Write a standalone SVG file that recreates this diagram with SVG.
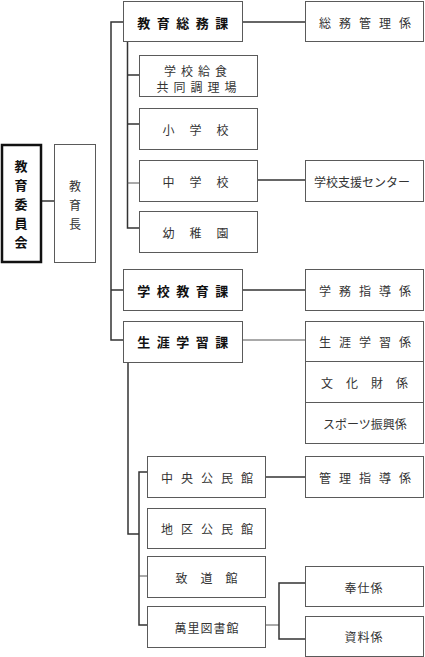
<svg xmlns="http://www.w3.org/2000/svg" width="425" height="657" viewBox="0 0 425 657">
<style>
.box{fill:#fff;stroke:#5a5a5a;stroke-width:1}
.thick{fill:#fff;stroke:#111;stroke-width:2.5}
.t{font-family:"Noto Sans CJK JP","Noto Sans",sans-serif;font-size:12px;fill:#333;text-anchor:middle;dominant-baseline:central}
.b{font-weight:bold;font-size:13px;fill:#111}
.ln{fill:none;stroke:#333;stroke-width:1.5}
.lt{fill:none;stroke:#555;stroke-width:1}
</style>
<rect width="425" height="657" fill="#fff"/>
<g id="connectors">
<path class="ln" d="M41 201H54"/>
<path class="ln" d="M123 22H111V340H123M111 290H123"/>
<path class="ln" d="M242 22H306"/>
<path class="ln" d="M127.5 41V228H139M127.5 75H139M127.5 124H139"/>
<path class="lt" d="M127.5 183H139"/>
<path class="ln" d="M257 180H306"/>
<path class="ln" d="M242 290H306"/>
<path class="lt" d="M242 340H306"/>
<path class="ln" d="M128 362V534H139"/>
<path class="ln" d="M147 472H139V625H147"/>
<path class="lt" d="M139 576H147"/>
<path class="ln" d="M265 477H306"/>
<path class="lt" d="M265 625H279"/>
<path class="ln" d="M306 583H279V639H306"/>
</g>
<g id="kyoiku-iinkai"><rect class="thick" x="2" y="145" width="39" height="117"/>
<text class="t b" x="21" y="165">教</text><text class="t b" x="21" y="184">育</text><text class="t b" x="21" y="203">委</text><text class="t b" x="21" y="222">員</text><text class="t b" x="21" y="241">会</text></g>
<g id="kyoikucho"><rect class="box" x="54.500" y="144.500" width="41" height="118"/>
<text class="t" x="75" y="185">教</text><text class="t" x="75" y="204">育</text><text class="t" x="75" y="223">長</text></g>
<g id="somu-ka"><rect class="box" x="123.500" y="1.500" width="119" height="40"/><text class="t b" x="186" y="22" letter-spacing="6.500">教育総務課</text></g>
<g id="somu-kanri"><rect class="box" x="305.500" y="1.500" width="118" height="40"/><text class="t" x="369" y="22" letter-spacing="8">総務管理係</text></g>
<g id="kyushoku"><rect class="box" x="139.500" y="55.500" width="118" height="41"/><text class="t" x="198" y="70" font-size="11" letter-spacing="5">学校給食</text><text class="t" x="199" y="86" font-size="11" letter-spacing="5">共同調理場</text></g>
<g id="shogakko"><rect class="box" x="139.500" y="108.500" width="118" height="41"/><text class="t" x="203" y="129" letter-spacing="15">小学校</text></g>
<g id="chugakko"><rect class="box" x="139.500" y="160.500" width="118" height="41"/><text class="t" x="203" y="181" letter-spacing="15">中学校</text></g>
<g id="yochien"><rect class="box" x="139.500" y="211.500" width="118" height="41"/><text class="t" x="203" y="232" letter-spacing="15">幼稚園</text></g>
<g id="shien-center"><rect class="box" x="305.500" y="160.500" width="118" height="41"/><text class="t" x="362" y="181">学校支援センター</text></g>
<g id="gakko-kyoiku-ka"><rect class="box" x="123.500" y="269.500" width="119" height="41"/><text class="t b" x="186" y="290" letter-spacing="6.500">学校教育課</text></g>
<g id="gakumu-shido"><rect class="box" x="305.500" y="269.500" width="118" height="41"/><text class="t" x="369" y="290" letter-spacing="8">学務指導係</text></g>
<g id="shogai-gakushu-ka"><rect class="box" x="123.500" y="321.500" width="119" height="41"/><text class="t b" x="186" y="341" letter-spacing="6.500">生涯学習課</text></g>
<g id="shogai-gakushu-kakari"><rect class="box" x="305.500" y="321.500" width="118" height="40"/><text class="t" x="369" y="341" letter-spacing="8">生涯学習係</text></g>
<g id="bunkazai"><rect class="box" x="305.500" y="361.500" width="118" height="41"/><text class="t" x="371" y="382" letter-spacing="13">文化財係</text></g>
<g id="sports"><rect class="box" x="305.500" y="402.500" width="118" height="41"/><text class="t" x="365" y="423">スポーツ振興係</text></g>
<g id="chuo-kominkan"><rect class="box" x="147.500" y="456.500" width="118" height="41"/><text class="t" x="211" y="477" letter-spacing="8">中央公民館</text></g>
<g id="kanri-shido"><rect class="box" x="305.500" y="456.500" width="118" height="41"/><text class="t" x="369" y="477" letter-spacing="8">管理指導係</text></g>
<g id="chiku-kominkan"><rect class="box" x="147.500" y="508.500" width="118" height="40"/><text class="t" x="211" y="528" letter-spacing="8">地区公民館</text></g>
<g id="chidokan"><rect class="box" x="147.500" y="556.500" width="118" height="41"/><text class="t" x="213" y="577" letter-spacing="13">致道館</text></g>
<g id="banri-toshokan"><rect class="box" x="147.500" y="606.500" width="118" height="41"/><text class="t" x="207" y="627" letter-spacing="1">萬里図書館</text></g>
<g id="hoshi"><rect class="box" x="305.500" y="566.500" width="118" height="40"/><text class="t" x="364" y="587" letter-spacing="1">奉仕係</text></g>
<g id="shiryo"><rect class="box" x="305.500" y="616.500" width="118" height="40"/><text class="t" x="364" y="636" letter-spacing="1">資料係</text></g>
</svg>
